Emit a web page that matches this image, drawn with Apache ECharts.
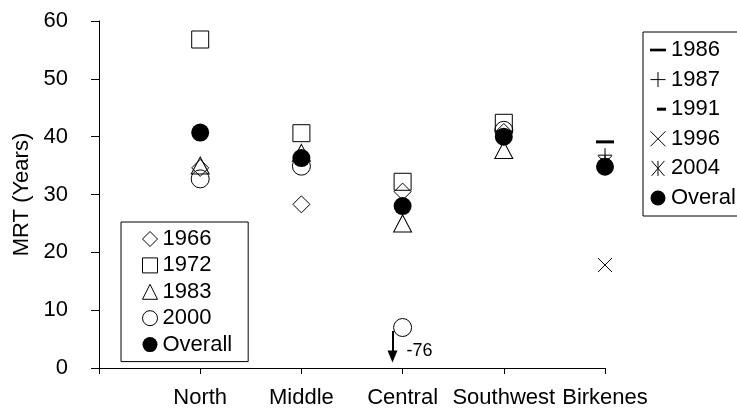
<!DOCTYPE html>
<html>
<head>
<meta charset="utf-8">
<script src="https://cdn.jsdelivr.net/npm/echarts@6/dist/echarts.min.js"></script>
<style>
  html, body { margin: 0; padding: 0; background: #fff; }
  #chart { width: 737px; height: 409px; }
</style>
</head>
<body>
<div id="chart"></div>
<script>
// ---- data ----
const categories = ['North', 'Middle', 'Central', 'Southwest', 'Birkenes'];
const yTicks = [0, 10, 20, 30, 40, 50, 60];

// values per category (null = no observation)
const s1966    = [34.6, 28.3, 30.5, 40.8, null];
const s1972    = [56.8, 40.6, 32.2, 42.4, null];
const s1983    = [35.0, 37.2, 25.0, 37.7, null];
const s2000    = [32.7, 34.9, 7.0, 41.1, null];   // Central plotted at 7, true value off scale
const s1986    = [null, null, null, null, 39.1];
const s1987    = [null, null, null, null, 36.8];
const s1991    = [null, null, null, null, 36.0];
const s1996    = [null, null, null, null, 17.8];
const s2004    = [null, null, null, null, 35.5];
const sOverall = [40.7, 36.3, 28.0, 40.0, 34.8];

// off-scale annotation
const offScaleCategory = 'Central';
const offScaleLabel = '-76';

// ---- helpers ----
const FONT = "'Liberation Sans', Arial, sans-serif";
function pts(arr) {
  const out = [];
  arr.forEach((v, i) => { if (v !== null) out.push([i + 1, v]); });
  return out;
}
const hollow = { color: 'transparent', borderColor: '#000', borderWidth: 1, opacity: 1 };
const filled = { color: '#000', borderColor: '#000', borderWidth: 0, opacity: 1 };

const SYM = {
  dashLong: 'path://M0,0h18v3h-18z',
  dashShort: 'path://M0,0h9v3h-9z',
  dashShortLegend: 'path://M0,0M16,0M7,0h9v3h-9z',
  plus: 'path://M0,7H14M7,0V14',
  cross: 'path://M0,0L14,14M14,0L0,14',
  asterisk: 'path://M1,0L13,14M13,0L1,14M7,0V14'
};

const ci = categories.indexOf(offScaleCategory) + 1;
const plotted2000 = s2000[ci - 1];

const series = [
  { name: '1986', type: 'scatter', symbol: SYM.dashLong, symbolSize: [18, 3], itemStyle: filled, data: pts(s1986) },
  { name: '1987', type: 'scatter', symbol: SYM.plus, symbolSize: 14, itemStyle: hollow, data: pts(s1987) },
  { name: '1991', type: 'scatter', symbol: SYM.dashShort, symbolSize: [9, 3], itemStyle: filled, data: pts(s1991) },
  { name: '1996', type: 'scatter', symbol: SYM.cross, symbolSize: 14, itemStyle: hollow, data: pts(s1996) },
  { name: '2004', type: 'scatter', symbol: SYM.asterisk, symbolSize: 14, itemStyle: hollow, data: pts(s2004) },
  { name: '1966', type: 'scatter', symbol: 'diamond', symbolSize: 17, itemStyle: hollow, data: pts(s1966) },
  { name: '1972', type: 'scatter', symbol: 'rect', symbolSize: 17, itemStyle: hollow, data: pts(s1972) },
  { name: '1983', type: 'scatter', symbol: 'triangle', symbolSize: [18, 17], itemStyle: hollow, data: pts(s1983) },
  { name: '2000', type: 'scatter', symbol: 'circle', symbolSize: 18, itemStyle: hollow, data: pts(s2000),
    markLine: {
      silent: true, animation: false,
      symbol: ['none', 'triangle'], symbolSize: [10, 12],
      lineStyle: { color: '#000', width: 2, type: 'solid', opacity: 1 },
      itemStyle: { color: '#000', opacity: 1 },
      label: { show: false },
      data: [[ { coord: [ci - 0.1, plotted2000 - 0.6] }, { coord: [ci - 0.1, plotted2000 - 5.0] } ]]
    },
    markPoint: {
      silent: true, animation: false,
      symbol: 'circle', symbolSize: 0,
      itemStyle: { color: 'transparent' },
      label: { show: true, position: 'right', distance: 4, formatter: offScaleLabel,
               color: '#000', fontSize: 18, fontFamily: FONT },
      data: [ { coord: [ci, plotted2000 - 4.0] } ]
    }
  },
  { name: 'Overall', type: 'scatter', symbol: 'circle', symbolSize: 18, itemStyle: filled, data: pts(sOverall) }
];

const legendText = { color: '#000', fontSize: 22, lineHeight: 22, fontFamily: FONT };

const option = {
  animation: false,
  backgroundColor: '#fff',
  grid: { left: 99, right: 132, top: 21, bottom: 40, containLabel: false },
  xAxis: {
    type: 'value', min: 0, max: categories.length, interval: 1,
    axisLine: { show: true, onZero: false, lineStyle: { color: '#000', width: 1 } },
    axisTick: { show: true, length: 6, lineStyle: { color: '#000' } },
    splitLine: { show: false },
    axisLabel: { color: '#000', fontSize: 22, fontFamily: FONT, margin: 19,
                 showMinLabel: true, showMaxLabel: true,
                 formatter: v => categories[v - 1] || '' }
  },
  yAxis: {
    type: 'value', min: yTicks[0], max: yTicks[yTicks.length - 1], interval: 10,
    name: 'MRT (Years)', nameLocation: 'middle', nameRotate: 90, nameGap: 64,
    nameTextStyle: { color: '#000', fontSize: 22, fontFamily: FONT },
    axisLine: { show: true, lineStyle: { color: '#000', width: 1 } },
    axisTick: { show: true, length: 8, lineStyle: { color: '#000' } },
    splitLine: { show: false },
    axisLabel: { color: '#000', fontSize: 22, fontFamily: FONT, margin: 31 }
  },
  legend: [
    {
      orient: 'vertical', left: 121, top: 222,
      padding: [6, 16, 6, 21], itemGap: 4.4, itemWidth: 15, itemHeight: 15,
      borderColor: '#000', borderWidth: 1, backgroundColor: '#fff',
      selectedMode: false, textStyle: legendText,
      data: [
        { name: '1966', icon: 'diamond', itemStyle: hollow },
        { name: '1972', icon: 'rect', itemStyle: hollow },
        { name: '1983', icon: 'triangle', itemStyle: hollow },
        { name: '2000', icon: 'circle', itemStyle: hollow },
        { name: 'Overall', icon: 'circle', itemStyle: filled }
      ]
    },
    {
      orient: 'vertical', left: 643, top: 32,
      padding: [7, 14, 7, 7], itemGap: 7.6, itemWidth: 16, itemHeight: 15,
      borderColor: '#000', borderWidth: 1, backgroundColor: '#fff',
      selectedMode: false, textStyle: legendText,
      data: [
        { name: '1986', icon: SYM.dashLong, itemStyle: filled },
        { name: '1987', icon: SYM.plus, itemStyle: hollow },
        { name: '1991', icon: SYM.dashShortLegend, itemStyle: filled },
        { name: '1996', icon: SYM.cross, itemStyle: hollow },
        { name: '2004', icon: SYM.asterisk, itemStyle: hollow },
        { name: 'Overall', icon: 'circle', itemStyle: filled }
      ]
    }
  ],
  series: series
};

const chart = echarts.init(document.getElementById('chart'), null, { renderer: 'canvas' });
chart.setOption(option);
</script>
</body>
</html>
